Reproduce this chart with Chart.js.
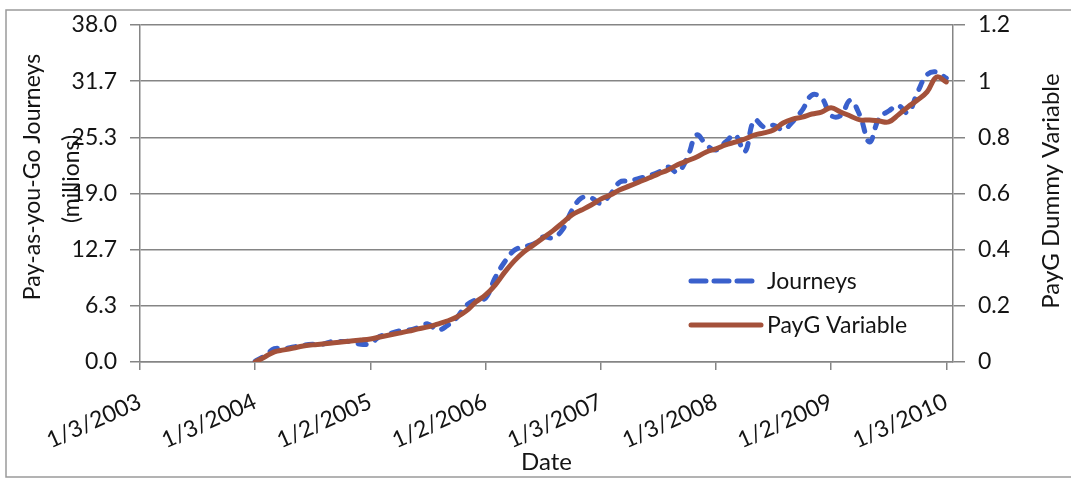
<!DOCTYPE html>
<html>
<head>
<meta charset="utf-8">
<script src="https://cdn.jsdelivr.net/npm/chart.js@4.4.1/dist/chart.umd.min.js"></script>
<style>
  html, body { margin: 0; padding: 0; background: #fff; overflow: hidden; }
  #wrap { position: relative; width: 1071px; height: 479px; }
</style>
</head>
<body>
<div id="wrap"><canvas id="c" width="1071" height="479"></canvas></div>
<script>
// Date labels on the horizontal axis, one every 12 months
const tickLabels = ['1/3/2003', '1/3/2004', '1/2/2005', '1/2/2006', '1/3/2007', '1/3/2008', '1/2/2009', '1/3/2010'];
const monthsPerLabel = 12;
const firstPeriod = 12;   // series start at 1/3/2004 (month 12 after 1/3/2003)

// Monthly pay-as-you-go journeys (millions), Jan 2004 .. Jan 2010
const journeys = [
  0.1, 0.7, 1.5, 1.5, 1.7, 1.9, 2.0, 2.0, 2.3, 2.3, 2.3, 2.0,
  2.1, 2.9, 3.2, 3.5, 3.6, 3.9, 4.3, 3.6, 4.1, 5.0, 6.4, 7.0,
  7.2, 9.5, 11.3, 12.6, 13.0, 13.3, 14.1, 14.0, 14.9, 17.1, 18.5, 18.5,
  17.9, 18.9, 20.3, 20.4, 20.7, 21.0, 21.4, 22.0, 21.4, 23.0, 25.6, 24.5,
  23.9, 24.8, 25.6, 23.7, 27.3, 26.5, 26.7, 26.2, 27.1, 28.4, 30.1, 29.8,
  27.8, 27.8, 29.5, 27.8, 24.8, 27.5, 28.3, 28.9, 28.1, 30.4, 32.4, 32.7,
  32.0
];

// PayG dummy variable (right axis), same months
const paygVariable = [
  0.000, 0.018, 0.036, 0.043, 0.050, 0.057, 0.061, 0.064, 0.068, 0.071, 0.075, 0.078,
  0.082, 0.089, 0.096, 0.103, 0.110, 0.118, 0.125, 0.135, 0.146, 0.160, 0.182, 0.214,
  0.239, 0.274, 0.320, 0.360, 0.392, 0.417, 0.442, 0.467, 0.495, 0.524, 0.541, 0.559,
  0.580, 0.595, 0.613, 0.627, 0.641, 0.655, 0.670, 0.684, 0.702, 0.716, 0.730, 0.748,
  0.759, 0.773, 0.783, 0.794, 0.808, 0.816, 0.826, 0.851, 0.865, 0.872, 0.883, 0.890,
  0.905, 0.890, 0.876, 0.862, 0.862, 0.858, 0.855, 0.880, 0.908, 0.933, 0.962, 1.015,
  0.997
];

const leftTickLabels = ['0.0', '6.3', '12.7', '19.0', '25.3', '31.7', '38.0'];
const leftMax = 38;
const rightTickLabels = ['0', '0.2', '0.4', '0.6', '0.8', '1', '1.2'];
const rightMax = 1.2;

const leftTitle = ['Pay-as-you-Go Journeys', '(millions)'];
const rightTitle = 'PayG Dummy Variable';
const xTitle = 'Date';

const FONT = 'Lato, "Open Sans", sans-serif';
const TEXT = '#141414';
const GRID = '#858585';
const BLUE = '#3a60cc';
const BROWN = '#a4513a';

const toPoints = arr => arr.map((v, i) => ({ x: firstPeriod + i, y: v }));

// Page frame around the figure
const framePlugin = {
  id: 'frame',
  beforeDraw(chart) {
    const ctx = chart.ctx;
    ctx.save();
    ctx.fillStyle = '#fff';
    ctx.fillRect(0, 0, chart.width, chart.height);
    ctx.strokeStyle = '#9a9a9a';
    ctx.lineWidth = 1.5;
    ctx.strokeRect(6, 10, chart.width + 20, chart.height - 12);
    ctx.restore();
  }
};

// Vertical axis titles, both reading bottom-to-top
const axisTitlePlugin = {
  id: 'axisTitles',
  afterDraw(chart) {
    const ctx = chart.ctx;
    ctx.save();
    ctx.fillStyle = TEXT;
    ctx.font = '23px ' + FONT;
    ctx.textAlign = 'center';
    ctx.textBaseline = 'middle';
    ctx.translate(33, 177);
    ctx.rotate(-Math.PI / 2);
    ctx.fillText(leftTitle[0], 0, 0);
    ctx.fillText(leftTitle[1], -2, 39);
    ctx.restore();

    ctx.save();
    ctx.fillStyle = TEXT;
    ctx.font = '24px ' + FONT;
    ctx.textAlign = 'center';
    ctx.textBaseline = 'middle';
    ctx.translate(1051, 191);
    ctx.rotate(-Math.PI / 2);
    ctx.fillText(rightTitle, 0, 0);
    ctx.restore();
  }
};

// Legend drawn inside the plot area
const innerLegendPlugin = {
  id: 'innerLegend',
  afterDatasetsDraw(chart) {
    const ctx = chart.ctx;
    const order = [1, 0];
    const x0 = 691, x1 = 761, tx = 767;
    const rows = [281, 325];
    ctx.save();
    order.forEach((di, r) => {
      const ds = chart.data.datasets[di];
      const y = rows[r];
      ctx.beginPath();
      ctx.strokeStyle = ds.borderColor;
      ctx.lineWidth = ds.borderWidth;
      ctx.lineCap = 'round';
      ctx.setLineDash(ds.borderDash ? [15, 8] : []);
      ctx.moveTo(x0, y);
      ctx.lineTo(ds.borderDash ? x1 - 8 : x1, y);
      ctx.stroke();
      ctx.setLineDash([]);
      ctx.fillStyle = TEXT;
      ctx.font = '23px ' + FONT;
      ctx.textAlign = 'left';
      ctx.textBaseline = 'middle';
      ctx.fillText(ds.label, tx, y + 1);
    });
    ctx.restore();
  }
};

new Chart(document.getElementById('c'), {
  type: 'line',
  data: {
    datasets: [
      {
        label: 'PayG Variable',
        data: toPoints(paygVariable),
        yAxisID: 'y1',
        borderColor: BROWN,
        borderWidth: 5,
        pointRadius: 0,
        tension: 0.4,
        borderCapStyle: 'round',
        borderJoinStyle: 'round',
        order: 0
      },
      {
        label: 'Journeys',
        data: toPoints(journeys),
        yAxisID: 'y',
        borderColor: BLUE,
        borderWidth: 5,
        borderDash: [8, 10],
        borderCapStyle: 'round',
        borderJoinStyle: 'round',
        pointRadius: 0,
        tension: 0.4,
        order: 1
      }
    ]
  },
  options: {
    responsive: false,
    devicePixelRatio: 1,
    animation: false,
    layout: { padding: { top: 25, left: 0, right: 0, bottom: 0 } },
    plugins: {
      legend: { display: false },
      tooltip: { enabled: false },
      title: { display: false }
    },
    scales: {
      x: {
        type: 'linear',
        min: 0,
        max: 84.7,
        afterBuildTicks(scale) {
          scale.ticks = tickLabels.map((_, i) => ({ value: i * monthsPerLabel }));
        },
        afterFit(scale) { scale.height = 117; },
        ticks: {
          autoSkip: false,
          minRotation: 24,
          maxRotation: 24,
          padding: 18,
          color: TEXT,
          font: { family: FONT, size: 23 },
          callback: (v, i) => tickLabels[i]
        },
        grid: { drawOnChartArea: false, drawTicks: true, tickLength: 8, color: GRID, lineWidth: 1.5 },
        border: { display: true, color: GRID, width: 1.5 },
        title: {
          display: true,
          text: xTitle,
          color: TEXT,
          font: { family: FONT, size: 24 },
          padding: { top: 0, bottom: 2 }
        }
      },
      y: {
        position: 'left',
        min: 0,
        max: leftMax,
        afterBuildTicks(scale) {
          scale.ticks = leftTickLabels.map((_, i) => ({ value: i * leftMax / (leftTickLabels.length - 1) }));
        },
        afterFit(scale) { scale.width = 140; },
        ticks: {
          padding: 13,
          color: TEXT,
          font: { family: FONT, size: 23, lineHeight: 1 },
          callback: (v, i) => leftTickLabels[i]
        },
        grid: { color: GRID, lineWidth: 1.5, tickLength: 10 },
        border: { display: true, color: GRID, width: 1.5 }
      },
      y1: {
        position: 'right',
        min: 0,
        max: rightMax,
        afterBuildTicks(scale) {
          scale.ticks = rightTickLabels.map((_, i) => ({ value: i * rightMax / (rightTickLabels.length - 1) }));
        },
        afterFit(scale) { scale.width = 118; },
        ticks: {
          padding: 13,
          color: TEXT,
          font: { family: FONT, size: 23, lineHeight: 1 },
          callback: (v, i) => rightTickLabels[i]
        },
        grid: { drawOnChartArea: false, color: GRID, lineWidth: 1.5, tickLength: 12 },
        border: { display: true, color: GRID, width: 1.5 }
      }
    }
  },
  plugins: [framePlugin, axisTitlePlugin, innerLegendPlugin]
});
</script>
</body>
</html>
